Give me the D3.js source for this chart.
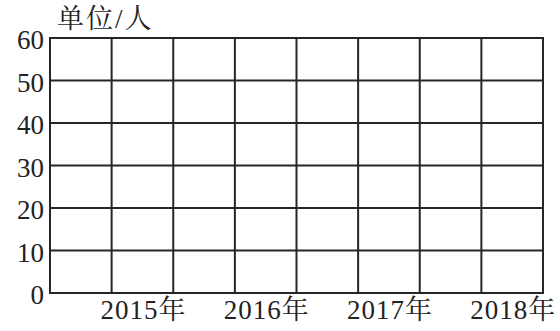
<!DOCTYPE html>
<html><head><meta charset="utf-8">
<script src="https://cdn.jsdelivr.net/npm/d3@7"></script>
<style>body{margin:0;background:#fff}svg{display:block}
text{font-family:"Liberation Serif","DejaVu Serif","Noto Serif","Noto Serif CJK SC","Noto Sans CJK SC",serif}</style>
</head><body>
<script>
const categories = ["2015年","2016年","2017年","2018年"];
const yTicks = [0,10,20,30,40,50,60];
const columns = [0,1,2,3,4,5,6,7,8];
const unitLabel = "单位/人";

const W=560,H=331;
const svg=d3.select("body").append("svg").attr("width",W).attr("height",H);
const x=d3.scaleLinear().domain([0,8]).range([50,543]);
const y=d3.scaleLinear().domain([0,60]).range([293,38]);
const col="#262626";

svg.append("g").selectAll("line").data(yTicks).join("line")
 .attr("x1",x(0)).attr("x2",x(8)).attr("y1",d=>y(d)).attr("y2",d=>y(d))
 .attr("stroke",col).attr("stroke-width",2);
svg.append("g").selectAll("line").data(columns).join("line")
 .attr("x1",d=>x(d)).attr("x2",d=>x(d)).attr("y1",y(0)+1).attr("y2",y(60)-1)
 .attr("stroke",col).attr("stroke-width",2);

svg.append("g").selectAll("text").data(yTicks).join("text")
 .attr("x",44).attr("y",d=>y(d)+11).attr("text-anchor","end")
 .attr("font-size",27).attr("fill","#222").text(d=>d);

svg.append("g").selectAll("text").data(categories).join("text")
 .attr("x",(d,i)=>x(2*i+1.5)+1).attr("y",319).attr("text-anchor","middle")
 .attr("font-size",27).attr("letter-spacing",1).attr("fill","#222").text(d=>d);

svg.append("text").attr("x",57).attr("y",28)
 .attr("font-size",27).attr("letter-spacing",2).attr("fill","#222").text(unitLabel);
</script>
</body></html>
